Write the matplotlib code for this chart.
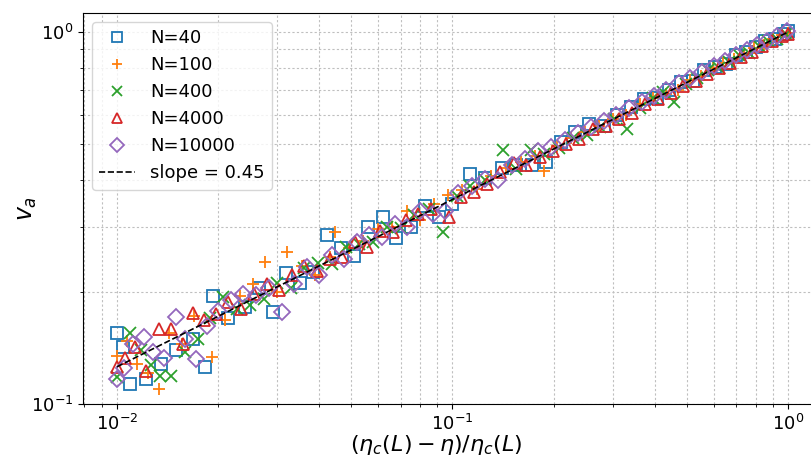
import numpy as np
import matplotlib
matplotlib.use('Agg')
import matplotlib.pyplot as plt
from matplotlib.ticker import NullFormatter

# values
x40 = [0.0100, 0.0104, 0.0109, 0.0122, 0.0135, 0.0150, 0.0168, 0.0183, 0.0193, 0.0215,
       0.0240, 0.0265, 0.0292, 0.0320, 0.0350, 0.0385, 0.0423, 0.0465, 0.0510, 0.0560,
       0.0621, 0.0680, 0.0750, 0.0830, 0.0910, 0.1000, 0.1127, 0.1250, 0.1400, 0.1550,
       0.1720, 0.1900, 0.2100, 0.2320, 0.2560, 0.2820, 0.3100, 0.3400, 0.3720, 0.4060,
       0.4420, 0.4800, 0.5200, 0.5620, 0.6060, 0.6520, 0.7000, 0.7500, 0.8020, 0.8560,
       0.9120, 0.9700, 1.0000]
y40 = [0.155, 0.142, 0.113, 0.117, 0.128, 0.140, 0.150, 0.126, 0.195, 0.170,
       0.182, 0.205, 0.177, 0.225, 0.212, 0.226, 0.285, 0.262, 0.250, 0.300,
       0.318, 0.280, 0.300, 0.340, 0.318, 0.345, 0.415, 0.405, 0.430, 0.440,
       0.440, 0.448, 0.505, 0.540, 0.565, 0.560, 0.600, 0.630, 0.660, 0.665,
       0.700, 0.735, 0.740, 0.790, 0.805, 0.820, 0.870, 0.885, 0.910, 0.945,
       0.960, 0.985, 1.005]

x100 = [0.0100, 0.0107, 0.0115, 0.0124, 0.0133, 0.0143, 0.0156, 0.0170, 0.0192, 0.0210,
        0.0232, 0.0255, 0.0276, 0.0300, 0.0322, 0.0355, 0.0390, 0.0430, 0.0446, 0.0490,
        0.0540, 0.0600, 0.0660, 0.0730, 0.0800, 0.0880, 0.0970, 0.1070, 0.1180, 0.1300,
        0.1440, 0.1600, 0.1760, 0.1870, 0.2050, 0.2250, 0.2480, 0.2730, 0.3000, 0.3300,
        0.3620, 0.3960, 0.4320, 0.4700, 0.5100, 0.5520, 0.5960, 0.6420, 0.6900, 0.7400,
        0.7920, 0.8460, 0.9020, 0.9600, 1.0000]
y100 = [0.135, 0.148, 0.128, 0.121, 0.110, 0.155, 0.145, 0.172, 0.134, 0.168,
        0.195, 0.210, 0.241, 0.200, 0.256, 0.235, 0.222, 0.248, 0.290, 0.262,
        0.275, 0.295, 0.300, 0.330, 0.312, 0.345, 0.365, 0.375, 0.378, 0.410,
        0.430, 0.448, 0.465, 0.423, 0.495, 0.520, 0.540, 0.560, 0.585, 0.600,
        0.640, 0.665, 0.680, 0.700, 0.745, 0.760, 0.800, 0.825, 0.845, 0.870,
        0.905, 0.925, 0.955, 0.980, 0.995]

x400 = [0.0100, 0.0109, 0.0118, 0.0126, 0.0134, 0.0145, 0.0160, 0.0175, 0.0190, 0.0207,
        0.0228, 0.0250, 0.0275, 0.0300, 0.0330, 0.0362, 0.0398, 0.0438, 0.0480, 0.0528,
        0.0580, 0.0640, 0.0700, 0.0770, 0.0850, 0.0935, 0.1030, 0.1130, 0.1250, 0.1415,
        0.1550, 0.1710, 0.1880, 0.2070, 0.2280, 0.2510, 0.2760, 0.3030, 0.3310, 0.3620,
        0.3950, 0.4250, 0.4570, 0.4950, 0.5350, 0.5770, 0.6210, 0.6670, 0.7150, 0.7650,
        0.8170, 0.8710, 0.9270, 0.9850]
y400 = [0.118, 0.155, 0.140, 0.127, 0.119, 0.119, 0.138, 0.150, 0.170, 0.194,
        0.180, 0.185, 0.192, 0.212, 0.205, 0.232, 0.240, 0.238, 0.265, 0.270,
        0.272, 0.300, 0.298, 0.322, 0.335, 0.290, 0.362, 0.385, 0.400, 0.481,
        0.428, 0.481, 0.470, 0.488, 0.520, 0.530, 0.555, 0.585, 0.549, 0.625,
        0.665, 0.690, 0.648, 0.725, 0.750, 0.790, 0.800, 0.830, 0.865, 0.880,
        0.915, 0.945, 0.960, 0.990]

x4000 = [0.0100, 0.0106, 0.0113, 0.0122, 0.0133, 0.0145, 0.0157, 0.0168, 0.0182, 0.0198,
         0.0215, 0.0235, 0.0256, 0.0280, 0.0305, 0.0333, 0.0362, 0.0395, 0.0430, 0.0470,
         0.0512, 0.0558, 0.0610, 0.0665, 0.0725, 0.0790, 0.0860, 0.0977, 0.1060, 0.1160,
         0.1270, 0.1390, 0.1520, 0.1660, 0.1820, 0.1990, 0.2180, 0.2390, 0.2620, 0.2870,
         0.3140, 0.3430, 0.3750, 0.4100, 0.4480, 0.4880, 0.5300, 0.5750, 0.6220, 0.6720,
         0.7250, 0.7800, 0.8380, 0.8980, 0.9600, 1.0000]
y4000 = [0.126, 0.133, 0.142, 0.123, 0.159, 0.159, 0.145, 0.176, 0.168, 0.175,
         0.188, 0.180, 0.198, 0.210, 0.202, 0.222, 0.235, 0.228, 0.245, 0.248,
         0.272, 0.265, 0.292, 0.290, 0.312, 0.325, 0.335, 0.318, 0.360, 0.372,
         0.390, 0.420, 0.445, 0.440, 0.462, 0.478, 0.500, 0.515, 0.548, 0.560,
         0.585, 0.605, 0.640, 0.660, 0.685, 0.715, 0.740, 0.770, 0.798, 0.825,
         0.855, 0.885, 0.915, 0.945, 0.975, 0.990]

x10000 = [0.0100, 0.0105, 0.0112, 0.0120, 0.0128, 0.0138, 0.0150, 0.0160, 0.0172, 0.0186,
          0.0200, 0.0218, 0.0238, 0.0260, 0.0284, 0.0310, 0.0338, 0.0368, 0.0400, 0.0436,
          0.0475, 0.0518, 0.0565, 0.0616, 0.0672, 0.0733, 0.0800, 0.0872, 0.0950, 0.1040,
          0.1140, 0.1250, 0.1370, 0.1500, 0.1640, 0.1800, 0.1970, 0.2160, 0.2360, 0.2580,
          0.2820, 0.3080, 0.3360, 0.3660, 0.3990, 0.4340, 0.4720, 0.5120, 0.5550, 0.6000,
          0.6480, 0.6990, 0.7520, 0.8080, 0.8660, 0.9270, 0.9900]
y10000 = [0.117, 0.125, 0.145, 0.151, 0.138, 0.133, 0.171, 0.150, 0.132, 0.162,
          0.178, 0.190, 0.198, 0.196, 0.205, 0.177, 0.210, 0.233, 0.222, 0.252,
          0.245, 0.272, 0.285, 0.282, 0.305, 0.300, 0.330, 0.325, 0.330, 0.370,
          0.385, 0.402, 0.400, 0.438, 0.455, 0.478, 0.490, 0.512, 0.535, 0.555,
          0.578, 0.600, 0.625, 0.650, 0.675, 0.700, 0.728, 0.752, 0.780, 0.808,
          0.835, 0.865, 0.892, 0.920, 0.948, 0.975, 1.005]

slope = 0.45
fit_x = np.array([0.01, 1.0])

series = [
    ('N=40', x40, y40, 's', 8.5),
    ('N=100', x100, y100, '+', 9),
    ('N=400', x400, y400, 'x', 8.5),
    ('N=4000', x4000, y4000, '^', 9),
    ('N=10000', x10000, y10000, 'D', 8),
]

fig = plt.figure(figsize=(8.11, 4.59), dpi=100)
ax = fig.add_axes([0.1023, 0.1198, 0.9026, 0.8519])

for i, (lab, xs, ys, m, size) in enumerate(series):
    ax.plot(xs, ys, linestyle='none', marker=m, ms=size, mfc='none',
            mec='C%d' % i, mew=1.3, label=lab)

ax.plot(fit_x, fit_x ** slope, 'k--', lw=1.2, label='slope = %.2f' % slope, zorder=5)

ax.set_xscale('log')
ax.set_yscale('log')
ax.set_xlim(0.00792, 1.203)
ax.set_ylim(0.1, 1.125)
ax.yaxis.set_minor_formatter(NullFormatter())
ax.xaxis.set_minor_formatter(NullFormatter())
ax.grid(True, which='both', linestyle=(0, (2, 2)), color='0.75', lw=0.8)
ax.tick_params(labelsize=13)

ax.set_xlabel(r'$(\eta_c(L)-\eta)/\eta_c(L)$', fontsize=16, labelpad=0)
ax.xaxis.set_label_coords(0.482, -0.075)
ax.set_ylabel(r'$v_a$', fontsize=17)
ax.yaxis.set_label_coords(-0.06, 0.5)
ax.legend(loc='upper left', fontsize=13, markerscale=0.85)

plt.savefig('out.png', dpi=100)
